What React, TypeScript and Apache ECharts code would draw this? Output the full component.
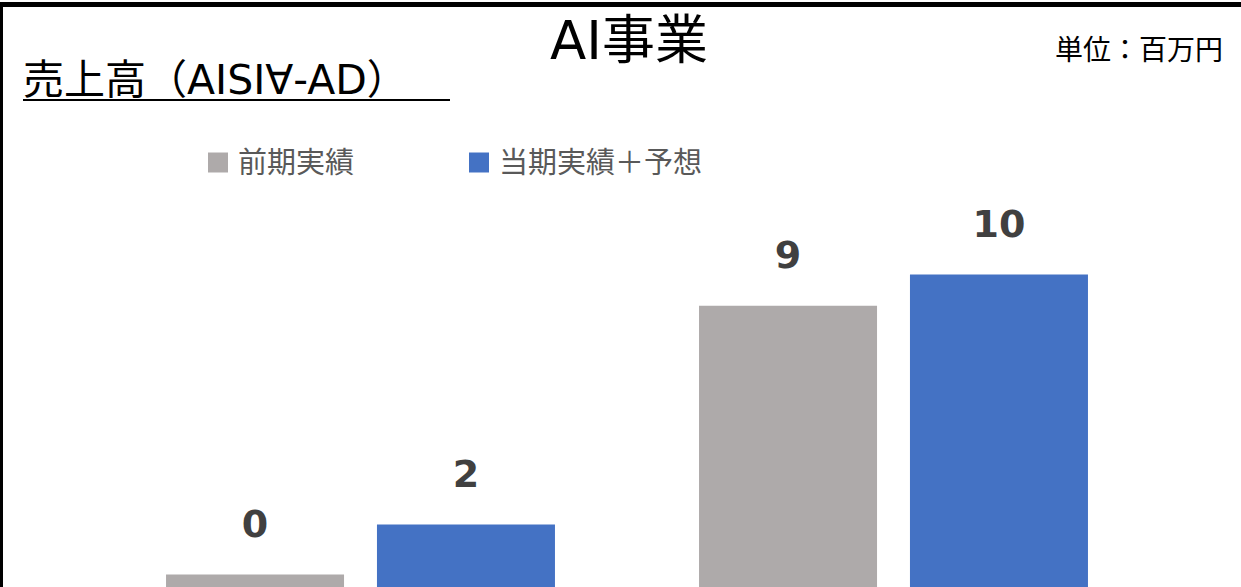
import React, { useEffect, useRef } from "react";
import * as echarts from "echarts";

const categories = ["A", "B"];
const seriesNames = ["前期実績", "当期実績＋予想"];
const previousValues = [0.4, 9];
const currentValues = [2, 10];
const titleText = "AI事業";
const subtitleText = "売上高（AISI∀-AD）";
const unitText = "単位：百万円";

const FONT = "'DejaVu Sans', 'Noto Sans CJK JP', sans-serif";

export default function App() {
  const ref = useRef<HTMLDivElement>(null);
  useEffect(() => {
    if (!ref.current) return;
    const chart = echarts.init(ref.current, null, { renderer: "svg" });
    const label = {
      show: true,
      position: "top",
      distance: 32,
      fontSize: 38,
      fontWeight: "bold",
      fontFamily: FONT,
      color: "#404040",
      formatter: (p: any) => String(Math.round(p.value)),
    };
    chart.setOption({
      animation: false,
      backgroundColor: "#ffffff",
      textStyle: { fontFamily: FONT },
      legend: {
        left: 208,
        top: 148,
        padding: 0,
        itemWidth: 20,
        itemHeight: 20,
        itemGap: 115,
        icon: "rect",
        textStyle: { fontSize: 29, color: "#595959", fontFamily: FONT, padding: [0, 0, 0, 5] },
        data: seriesNames,
      },
      grid: { left: 94, right: 81, top: 212, bottom: -2, containLabel: false },
      xAxis: {
        type: "category",
        data: categories,
        show: false,
      },
      yAxis: { type: "value", min: 0, max: 12, show: false, splitLine: { show: false } },
      series: [
        {
          name: seriesNames[0],
          type: "bar",
          data: previousValues,
          barWidth: 178,
          barGap: "18.5%",
          itemStyle: { color: "#AEAAAA" },
          label,
        },
        {
          name: seriesNames[1],
          type: "bar",
          data: currentValues,
          barWidth: 178,
          barGap: "18.5%",
          itemStyle: { color: "#4472C4" },
          label,
        },
      ],
      graphic: [
        { type: "rect", shape: { x: 0, y: 2, width: 1241, height: 5 }, style: { fill: "#000" }, z: 100 },
        { type: "rect", shape: { x: 0, y: 2, width: 3, height: 585 }, style: { fill: "#000" }, z: 100 },
        {
          type: "text",
          x: 629,
          y: 40,
          style: { text: titleText, fontSize: 53, fontFamily: FONT, fill: "#000", align: "center", verticalAlign: "middle" },
        },
        {
          type: "text",
          x: 23,
          y: 80,
          style: { text: subtitleText, fontSize: 41, fontFamily: FONT, fill: "#000", align: "left", verticalAlign: "middle" },
        },
        { type: "rect", shape: { x: 23, y: 99, width: 427, height: 2 }, style: { fill: "#000" } },
        {
          type: "text",
          x: 1223,
          y: 50,
          style: { text: unitText, fontSize: 28, fontFamily: FONT, fill: "#000", align: "right", verticalAlign: "middle" },
        },
      ],
    });
    return () => chart.dispose();
  }, []);
  return (
    <div
      ref={ref}
      style={{ position: "absolute", left: 0, top: 0, width: 1241, height: 587 }}
    />
  );
}
